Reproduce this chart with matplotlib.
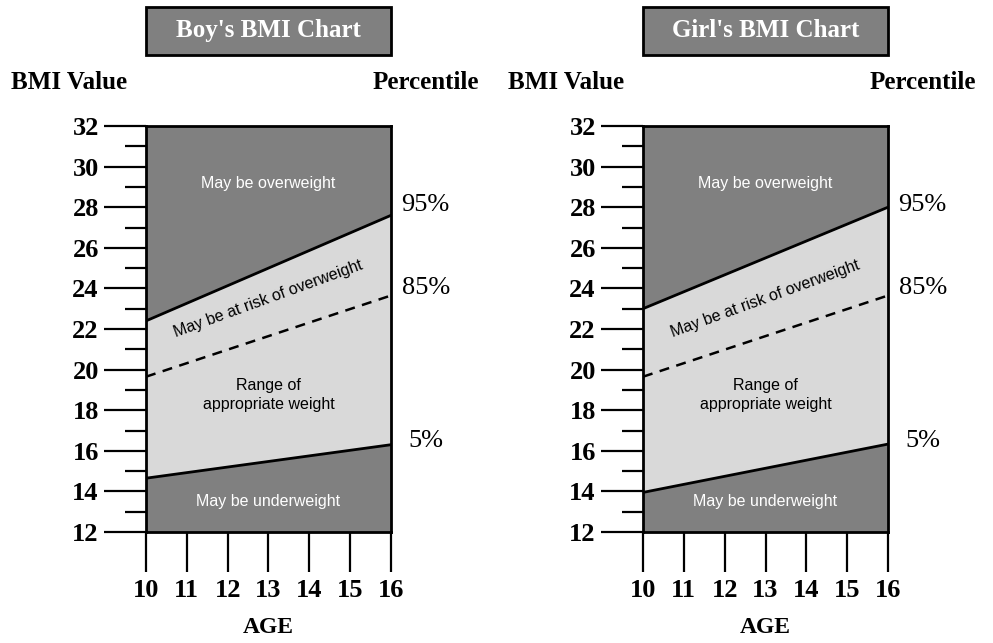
import matplotlib.pyplot as plt
from matplotlib.patches import Rectangle
from matplotlib.ticker import MultipleLocator

# BMI percentile lines at age 10 and 16
ages = [10, 16]
boy_p95 = [22.4, 27.6]
boy_p85 = [19.65, 23.65]
boy_p5 = [14.65, 16.3]
girl_p95 = [23.0, 28.0]
girl_p85 = [19.65, 23.65]
girl_p5 = [13.95, 16.33]

panels = [
    ("Boy's BMI Chart", boy_p95, boy_p85, boy_p5),
    ("Girl's BMI Chart", girl_p95, girl_p85, girl_p5),
]
age_ticks = [10, 11, 12, 13, 14, 15, 16]
bmi_ticks = [12, 14, 16, 18, 20, 22, 24, 26, 28, 30, 32]
pct_labels = ['95%', '85%', '5%']

DARK = '#808080'
LIGHT = '#d9d9d9'
serif = ['Liberation Serif', 'DejaVu Serif']
sans = ['Liberation Sans', 'DejaVu Sans']

W, H = 993, 643
fig = plt.figure(figsize=(W / 100, H / 100), dpi=100)

lefts = [146, 643]
for left, (title, p95, p85, p5) in zip(lefts, panels):
    ax = fig.add_axes([left / W, (H - 532) / H, 245 / W, 406 / H])
    ax.set_xlim(10, 16)
    ax.set_ylim(12, 32)

    ax.fill_between(ages, 12, p5, color=DARK, lw=0)
    ax.fill_between(ages, p5, p95, color=LIGHT, lw=0)
    ax.fill_between(ages, p95, 32, color=DARK, lw=0)
    ax.plot(ages, p95, color='black', lw=2)
    ax.plot(ages, p5, color='black', lw=2)
    ax.plot(ages, p85, color='black', lw=1.8, ls=(0, (4, 3)))

    for s in ax.spines.values():
        s.set_linewidth(2)

    ax.set_xticks(age_ticks)
    ax.set_yticks(bmi_ticks)
    ax.yaxis.set_minor_locator(MultipleLocator(1))
    ax.tick_params(axis='y', which='major', length=30, width=1.6, pad=4,
                   labelsize=19)
    ax.tick_params(axis='y', which='minor', length=15, width=1.6)
    ax.tick_params(axis='x', which='major', length=29, width=1.6, pad=5,
                   labelsize=19)
    for lab in ax.get_xticklabels() + ax.get_yticklabels():
        lab.set_family(serif)
        lab.set_fontweight('bold')

    # region labels
    ax.text(13, 29.15, 'May be overweight', color='white', ha='center',
            va='center', fontsize=11.5, family=sans)
    ax.text(13, 23.5, 'May be at risk of overweight', color='black',
            ha='center', va='center', fontsize=11.5, family=sans, rotation=20)
    ax.text(13, 18.75, 'Range of\nappropriate weight', color='black',
            ha='center', va='center', fontsize=11.5, family=sans,
            linespacing=1.35)
    ax.text(13, 13.5, 'May be underweight', color='white', ha='center',
            va='center', fontsize=11.5, family=sans)

    # percentile labels
    for px, py, lab in zip([16.26, 16.26, 16.43], [28.1, 24.0, 16.5],
                           pct_labels):
        ax.text(px, py, lab, ha='left', va='center', fontsize=19,
                family=serif, clip_on=False)

    # headings
    ax.add_patch(Rectangle((0, 1.175), 1, 0.118, transform=ax.transAxes,
                           facecolor=DARK, edgecolor='black', lw=2,
                           clip_on=False))
    ax.text(0.5, 1.234, title, transform=ax.transAxes, ha='center',
            va='center', color='white', fontsize=18, fontweight='bold',
            family=serif)
    ax.text(-0.549, 1.108, 'BMI Value', transform=ax.transAxes, ha='left',
            va='center', fontsize=18, fontweight='bold', family=serif)
    ax.text(1.36, 1.108, 'Percentile', transform=ax.transAxes, ha='right',
            va='center', fontsize=18, fontweight='bold', family=serif)
    ax.text(0.5, -0.236, 'AGE', transform=ax.transAxes, ha='center',
            va='center', fontsize=17, fontweight='bold', family=serif)

fig.savefig('out.png', dpi=100)
